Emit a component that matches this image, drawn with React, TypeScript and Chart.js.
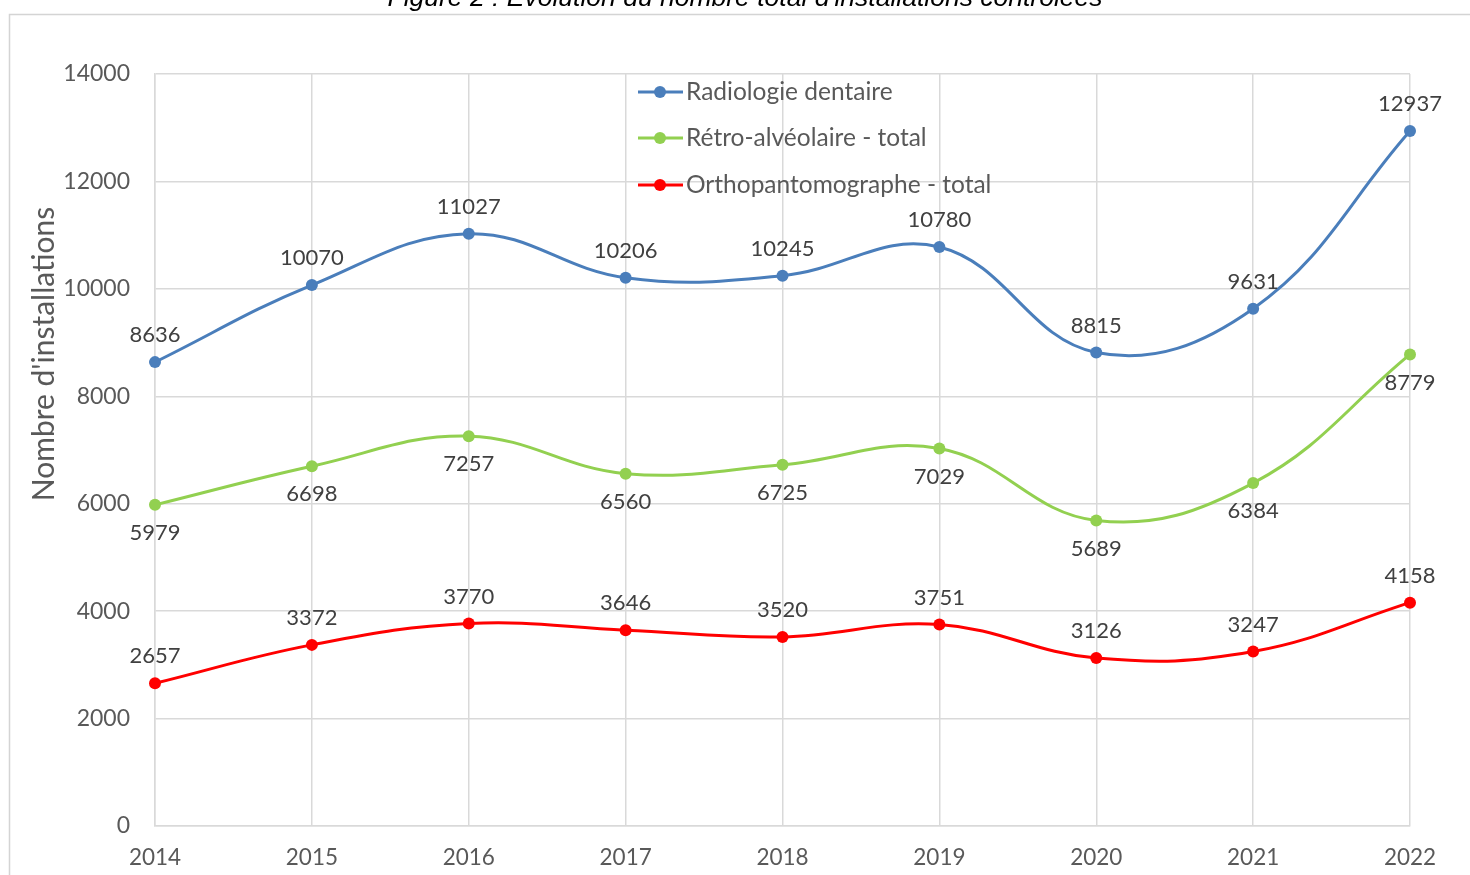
import React, { useEffect, useRef } from "react";
import { Chart, registerables } from "chart.js";

Chart.register(...registerables);

const years = ["2014", "2015", "2016", "2017", "2018", "2019", "2020", "2021", "2022"];
const radiologie = [8636, 10070, 11027, 10206, 10245, 10780, 8815, 9631, 12937];
const retro = [5979, 6698, 7257, 6560, 6725, 7029, 5689, 6384, 8779];
const ortho = [2657, 3372, 3770, 3646, 3520, 3751, 3126, 3247, 4158];
const seriesNames = ["Radiologie dentaire", "Rétro-alvéolaire - total", "Orthopantomographe - total"];
const seriesColors = ["#4A7EBB", "#92D050", "#FF0000"];
const labelSides = ["above", "below", "above"];
const titleText = "Figure 2 : Évolution du nombre total d'installations contrôlées";
const yTitle = "Nombre d'installations";

const FONT = "Lato, 'Open Sans', sans-serif";

const decorPlugin = {
  id: "decor",
  beforeDraw(chart: any) {
    const ctx = chart.ctx;
    ctx.save();
    ctx.fillStyle = "#ffffff";
    ctx.fillRect(0, 0, chart.width, chart.height);
    ctx.strokeStyle = "#d4d4d4";
    ctx.lineWidth = 1.5;
    ctx.strokeRect(9.5, 14.5, chart.width + 20, chart.height + 20);
    ctx.font = "italic 26.5px 'Liberation Sans', Arial, sans-serif";
    ctx.fillStyle = "#000000";
    ctx.textAlign = "center";
    ctx.textBaseline = "alphabetic";
    ctx.fillText(titleText, 745, 6);
    // y axis title
    ctx.translate(44, 354);
    ctx.rotate(-Math.PI / 2);
    ctx.font = "30px " + FONT;
    ctx.fillStyle = "#595959";
    ctx.textBaseline = "middle";
    ctx.fillText(yTitle, 0, 0);
    ctx.restore();
  },
  afterDatasetsDraw(chart: any) {
    const ctx = chart.ctx;
    ctx.save();
    ctx.font = "22px " + FONT;
    ctx.fillStyle = "#404040";
    ctx.textAlign = "center";
    ctx.textBaseline = "middle";
    chart.data.datasets.forEach((ds: any, i: number) => {
      const meta = chart.getDatasetMeta(i);
      meta.data.forEach((pt: any, j: number) => {
        const dy = labelSides[i] === "above" ? -27 : 28;
        ctx.fillText(String(ds.data[j]), pt.x, pt.y + dy);
      });
    });
    // legend
    const lx = 638;
    const ys = [92, 138, 185];
    chart.data.datasets.forEach((ds: any, i: number) => {
      const y = ys[i];
      ctx.strokeStyle = ds.borderColor;
      ctx.lineWidth = 3;
      ctx.beginPath();
      ctx.moveTo(lx, y);
      ctx.lineTo(lx + 45, y);
      ctx.stroke();
      ctx.fillStyle = ds.borderColor;
      ctx.beginPath();
      ctx.arc(lx + 22, y, 6, 0, Math.PI * 2);
      ctx.fill();
      ctx.fillStyle = "#595959";
      ctx.font = "24.5px " + FONT;
      ctx.textAlign = "left";
      ctx.fillText(ds.label, lx + 48, y);
    });
    ctx.restore();
  },
};

export default function App() {
  const ref = useRef<HTMLCanvasElement>(null);
  useEffect(() => {
    if (!ref.current) return;
    const data = [radiologie, retro, ortho];
    const chart = new Chart(ref.current, {
      type: "line",
      data: {
        labels: years,
        datasets: data.map((d, i) => ({
          label: seriesNames[i],
          data: d,
          borderColor: seriesColors[i],
          backgroundColor: seriesColors[i],
          borderWidth: 3,
          pointRadius: 6,
          pointBorderWidth: 0,
          tension: 0.4,
          fill: false,
        })),
      },
      options: {
        responsive: false,
        animation: false,
        devicePixelRatio: 1,
        layout: { padding: { top: 74, right: 60, bottom: 0, left: 0 } },
        plugins: { legend: { display: false }, tooltip: { enabled: false }, title: { display: false } },
        scales: {
          x: {
            offset: false,
            grid: { color: "#d9d9d9", lineWidth: 1.5, drawTicks: false },
            border: { color: "#d9d9d9", width: 1.5 },
            ticks: { color: "#595959", font: { family: FONT, size: 22.5 }, padding: 18, maxRotation: 0 },
            afterFit: (s: any) => { s.height = 49; },
          },
          y: {
            min: 0,
            max: 14000,
            grid: { color: "#d9d9d9", lineWidth: 1.5, drawTicks: false },
            border: { color: "#d9d9d9", width: 1.5 },
            ticks: {
              stepSize: 2000,
              color: "#595959",
              font: { family: FONT, size: 23 },
              padding: 25,
              callback: (v: any) => String(v),
            },
            afterFit: (s: any) => { s.width = 155; },
          },
        },
      },
      plugins: [decorPlugin],
    });
    return () => chart.destroy();
  }, []);
  return (
    <canvas
      ref={ref}
      width={1470}
      height={875}
      style={{ position: "fixed", left: 0, top: 0, width: 1470, height: 875 }}
    />
  );
}
